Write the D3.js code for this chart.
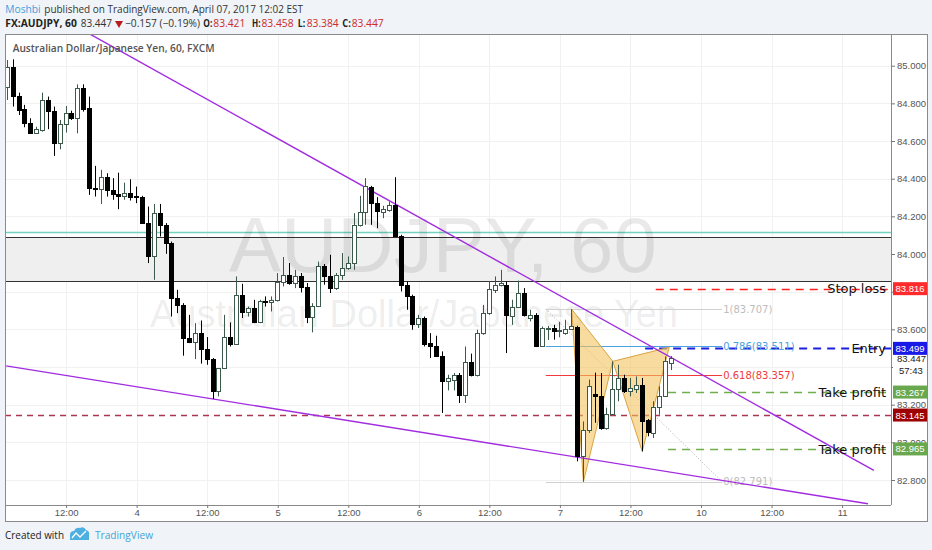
<!DOCTYPE html>
<html><head><meta charset="utf-8">
<script src="https://cdn.jsdelivr.net/npm/d3@7"></script>
<style>
body{margin:0;background:#f0f3f7;}
svg{display:block;font-family:"Open Sans",sans-serif;}
</style>
</head><body>
<svg id="chart" width="932" height="550"></svg>
<script>
// ---------------- DATA ----------------
const candleOpen=[84.889,84.992,84.839,84.769,84.698,84.645,84.659,84.818,84.760,84.588,
84.691,84.751,84.721,84.880,84.774,84.353,84.344,84.411,84.341,84.319,
84.309,84.326,84.309,84.305,84.167,83.990,84.220,84.155,84.058,83.766,
83.730,83.554,83.533,83.580,83.495,83.442,83.271,83.395,83.562,83.524,
83.784,83.690,83.713,83.639,83.748,83.745,83.757,83.854,83.890,83.846,
83.881,83.824,83.668,83.725,83.937,83.881,83.819,83.890,83.925,83.952,
84.155,84.222,84.355,84.270,84.225,84.234,84.261,84.096,83.837,83.775,
83.630,83.660,83.527,83.509,83.460,83.327,83.333,83.359,83.249,83.424,
83.359,83.580,83.686,83.810,83.838,83.837,83.672,83.721,83.793,83.662,
83.675,83.513,83.600,83.607,83.592,83.580,83.602,83.615,82.929,83.067,
83.256,83.247,83.076,83.152,83.283,83.342,83.275,83.283,83.306,83.117,
83.050,83.188,83.247,83.421];
const candleHigh=[85.030,85.034,84.857,84.792,84.721,84.676,84.857,84.836,84.783,84.712,
84.786,84.761,84.901,84.901,84.836,84.468,84.447,84.429,84.403,84.432,
84.379,84.397,84.358,84.309,84.252,84.266,84.266,84.164,84.066,83.810,
83.739,83.677,83.633,83.647,83.559,83.448,83.395,83.677,83.637,83.881,
83.842,83.721,83.757,83.757,83.775,83.775,83.899,83.984,83.952,83.916,
83.899,83.846,83.739,83.960,83.947,83.996,83.899,84.005,83.987,84.217,
84.309,84.403,84.362,84.302,84.256,84.278,84.408,84.102,83.854,83.784,
83.677,83.668,83.580,83.566,83.483,83.359,83.368,83.368,83.509,83.471,
83.598,83.730,83.854,83.881,83.916,83.854,83.757,83.859,83.819,83.704,
83.686,83.615,83.618,83.624,83.640,83.651,83.707,83.619,83.111,83.333,
83.370,83.368,83.184,83.430,83.412,83.359,83.342,83.350,83.342,83.124,
83.218,83.297,83.456,83.458];
const candleLow=[84.818,84.783,84.738,84.673,84.641,84.641,84.650,84.663,84.521,84.556,
84.645,84.712,84.641,84.756,84.314,84.305,84.266,84.305,84.288,84.238,
84.288,84.284,84.270,84.164,83.952,83.863,84.093,84.001,83.668,83.686,
83.460,83.527,83.442,83.418,83.412,83.230,83.244,83.389,83.509,83.518,
83.660,83.668,83.633,83.633,83.721,83.695,83.748,83.828,83.837,83.819,
83.796,83.633,83.584,83.721,83.837,83.793,83.810,83.863,83.916,83.916,
84.146,84.155,84.155,84.137,84.190,84.225,84.093,83.801,83.704,83.598,
83.607,83.509,83.448,83.453,83.156,83.276,83.276,83.209,83.209,83.350,
83.350,83.571,83.677,83.793,83.828,83.474,83.624,83.713,83.668,83.642,
83.506,83.509,83.544,83.545,83.558,83.571,83.598,82.899,82.791,83.050,
83.104,83.067,83.067,83.147,83.218,83.262,83.244,83.262,82.952,83.032,
83.023,83.147,83.244,83.384];
const candleClose=[84.992,84.839,84.765,84.694,84.645,84.663,84.818,84.760,84.592,84.691,
84.751,84.721,84.880,84.769,84.350,84.344,84.411,84.341,84.319,84.310,
84.326,84.302,84.304,84.167,83.990,84.220,84.155,84.058,83.766,83.730,
83.554,83.533,83.580,83.495,83.442,83.271,83.395,83.562,83.524,83.784,
83.690,83.713,83.639,83.748,83.743,83.757,83.854,83.890,83.846,83.881,
83.824,83.668,83.725,83.937,83.881,83.819,83.890,83.925,83.952,84.155,
84.222,84.362,84.270,84.231,84.238,84.261,84.096,83.837,83.775,83.630,
83.660,83.524,83.509,83.460,83.327,83.342,83.359,83.253,83.427,83.359,
83.580,83.686,83.814,83.837,83.846,83.677,83.721,83.793,83.677,83.675,
83.510,83.607,83.606,83.589,83.598,83.602,83.619,82.929,83.067,83.297,
83.245,83.076,83.152,83.283,83.342,83.271,83.289,83.306,83.111,83.053,
83.188,83.247,83.430,83.447];

const priceTicks=[82.8,83.0,83.2,83.4,83.6,83.8,84.0,84.2,84.4,84.6,84.8,85.0];
const hiddenPriceTicks=[83.4,83.8]; // fully covered by price boxes in the reference
const timeTickIdx=[10,22,34,46,58,70,82,94,106,118,130,142];
const timeTickLabels=["12:00","4","12:00","5","12:00","6","12:00","7","12:00","10","12:00","11"];

const patternIdx=[96,98,103,108,112.6];
const patternPrice=[83.707,82.791,83.430,82.952,83.505];

const trendUpperIdx=[14.1,147.4], trendUpperPrice=[85.167,82.851];
const trendLowerIdx=[-0.2,146.4], trendLowerPrice=[83.406,82.674];

const zonePrices=[84.088,83.855];
const tealPrice=84.118;

const fibPrices=[83.707,83.511,83.357,82.791];
const fibLabels=["1(83.707)","0.786(83.511)","0.618(83.357)","0(82.791)"];
const fibColors=["#d0d0d0","#4aa3df","#f23a3a","#d0d0d0"];
const fibStartIdx=91.6, fibEndIdx=121.6;

const levelNames=["Stop loss","Entry","Take profit","","Take profit"];
const levelPrices=[83.816,83.499,83.267,83.145,82.965];
const levelStartIdx=[110.3,108.5,112.4,-2,112.4];
const levelColors=["#ff2020","#1f1fe0","#6fae4c","#a8374f","#6fae4c"];
const boxColors=["#ff2b2b","#1a1ae6","#6aa84f","#9c0000","#6aa84f"];

const lastPrice=83.447, countdown="57:43";

// ---------------- SCALES ----------------
const svg=d3.select("#chart");
const P={l:5,r:891,t:34,b:505,R:927,B:521};
const x=d3.scaleLinear().domain([0,113]).range([7.3,671.6]);
const y=d3.scaleLinear().domain([82.8,85.0]).range([480,65.7]);
const fmt=d3.format(".3f");

// chart frame
svg.append("rect").attr("x",P.l+0.5).attr("y",P.t+0.5).attr("width",P.R-P.l).attr("height",P.B-P.t)
  .attr("fill","#fff").attr("stroke","#8a8a8a");

svg.append("defs").append("clipPath").attr("id","clip").append("rect")
  .attr("x",P.l+1).attr("y",P.t+1).attr("width",P.r-P.l-1).attr("height",P.b-P.t-1);
const plot=svg.append("g").attr("clip-path","url(#clip)");

// grid
plot.selectAll(".vg").data(timeTickIdx).join("line")
  .attr("x1",d=>Math.round(x(d))+0.5).attr("x2",d=>Math.round(x(d))+0.5)
  .attr("y1",P.t).attr("y2",P.b).attr("stroke","#f1f1f1");
plot.selectAll(".hg").data(priceTicks).join("line")
  .attr("x1",P.l).attr("x2",P.r)
  .attr("y1",d=>Math.round(y(d))+0.5).attr("y2",d=>Math.round(y(d))+0.5).attr("stroke","#f1f1f1");

// zone
plot.append("rect").attr("x",P.l).attr("width",P.r-P.l)
  .attr("y",y(zonePrices[0])).attr("height",y(zonePrices[1])-y(zonePrices[0]))
  .attr("fill","#efefef");
zonePrices.forEach(p=>{
  plot.append("line").attr("x1",P.l).attr("x2",P.r)
    .attr("y1",Math.round(y(p))+0.5).attr("y2",Math.round(y(p))+0.5).attr("stroke","#333");
});
plot.append("line").attr("x1",P.l).attr("x2",P.r)
  .attr("y1",Math.round(y(tealPrice))+0.5).attr("y2",Math.round(y(tealPrice))+0.5)
  .attr("stroke","#74d3c0").attr("stroke-width",1.3);

// watermarks
plot.append("text").attr("x",229).attr("y",272).text("AUDJPY, 60")
  .attr("font-family","Liberation Sans, Arial, sans-serif").attr("font-size",78)
  .attr("fill","#000").attr("fill-opacity",0.085);
plot.append("text").attr("x",150).attr("y",327).text("Australian Dollar/Japanese Yen")
  .attr("font-family","Liberation Sans, Arial, sans-serif").attr("font-size",38)
  .attr("fill","#000").attr("fill-opacity",0.085);

// horizontal levels
levelPrices.forEach((p,i)=>{
  const yy=Math.round(y(p))+0.5;
  plot.append("line").attr("x1",Math.max(P.l,x(levelStartIdx[i]))).attr("x2",P.r)
    .attr("y1",yy).attr("y2",yy).attr("stroke",levelColors[i])
    .attr("stroke-width",i===1?2:1.5)
    .attr("stroke-dasharray",i===3?"6,5":"8,6");
});

// fib levels
fibPrices.forEach((p,i)=>{
  const yy=Math.round(y(p))+0.5;
  plot.append("line").attr("x1",x(fibStartIdx)).attr("x2",x(fibEndIdx))
    .attr("y1",yy).attr("y2",yy).attr("stroke",fibColors[i]).attr("stroke-width",1);
  plot.append("text").attr("x",x(fibEndIdx)+1).attr("y",y(p)+3.6).text(fibLabels[i])
    .attr("font-family","DejaVu Sans, Verdana, sans-serif").attr("font-size",10)
    .attr("fill",i===0||i===3?"#bdbdbd":fibColors[i]);
});
plot.append("line").attr("x1",x(fibStartIdx)).attr("y1",y(fibPrices[0]))
  .attr("x2",x(fibEndIdx)).attr("y2",y(fibPrices[3]))
  .attr("stroke","#aaa").attr("stroke-dasharray","1,2");

// harmonic pattern
const pts=patternIdx.map((d,i)=>[x(d),y(patternPrice[i])]);
const tri=[[pts[0],pts[1],pts[2]],[pts[2],pts[3],pts[4]]];
plot.selectAll(".tri").data(tri).join("path")
  .attr("d",d=>"M"+d.map(p=>p.join(",")).join("L")+"Z")
  .attr("fill","#f3c35e").attr("fill-opacity",0.6)
  .attr("stroke","#d9a441").attr("stroke-width",1);

// trend lines
[[trendUpperIdx,trendUpperPrice],[trendLowerIdx,trendLowerPrice]].forEach(([ix,pr])=>{
  plot.append("line").attr("x1",x(ix[0])).attr("y1",y(pr[0]))
    .attr("x2",x(ix[1])).attr("y2",y(pr[1]))
    .attr("stroke","#a22ce0").attr("stroke-width",1.4);
});

// candles
const idx=d3.range(candleOpen.length);
const cg=plot.append("g");
idx.forEach(i=>{
  const o=candleOpen[i],h=candleHigh[i],l=candleLow[i],c=candleClose[i];
  const up=c>=o;
  const col=up?"#3b5a4c":"#000";
  const left=Math.round(x(i)-2.5);
  cg.append("line").attr("x1",left+2.5).attr("x2",left+2.5)
    .attr("y1",y(h)).attr("y2",y(l)).attr("stroke",col).attr("stroke-width",1);
  const yt=Math.round(y(Math.max(o,c))), yb=Math.round(y(Math.min(o,c)));
  cg.append("rect").attr("x",left+0.5).attr("y",yt+0.5)
    .attr("width",4).attr("height",Math.max(1,yb-yt))
    .attr("fill",up?"#fff":"#000").attr("stroke",col);
});

// level labels
levelPrices.forEach((p,i)=>{
  if(!levelNames[i]) return;
  plot.append("text").attr("x",886).attr("y",y(p)+4.8).attr("text-anchor","end")
    .text(levelNames[i]).attr("font-family","DejaVu Sans, Verdana, sans-serif")
    .attr("font-size",13).attr("fill","#111");
});

// ---------------- AXES ----------------
svg.append("line").attr("x1",P.r+0.5).attr("x2",P.r+0.5).attr("y1",P.t).attr("y2",P.b)
  .attr("stroke","#8a8a8a");
svg.append("line").attr("x1",P.l).attr("x2",P.r).attr("y1",P.b+0.5).attr("y2",P.b+0.5)
  .attr("stroke","#8a8a8a");

const yAxis=svg.append("g").attr("transform",`translate(${P.r},0)`)
  .call(d3.axisRight(y).tickValues(priceTicks)
    .tickFormat(d=>hiddenPriceTicks.includes(d)?"":fmt(d)).tickSize(4).tickPadding(2));
yAxis.select(".domain").remove();
yAxis.selectAll(".tick line").attr("stroke","#777");
yAxis.selectAll("text").attr("font-family","Liberation Sans, Arial, sans-serif")
  .attr("font-size",9.5).attr("fill","#555");

const xAxis=svg.append("g").attr("transform",`translate(0,${P.b})`)
  .call(d3.axisBottom(x).tickValues(timeTickIdx).tickFormat((d,i)=>timeTickLabels[i]).tickSize(3).tickPadding(1));
xAxis.select(".domain").remove();
xAxis.selectAll(".tick line").attr("stroke","#777");
xAxis.selectAll("text").attr("font-family","Liberation Sans, Arial, sans-serif")
  .attr("font-size",9.5).attr("fill","#555");

// price boxes
const ax=svg.append("g");
ax.append("rect").attr("x",893).attr("y",y(lastPrice)-7).attr("width",34).attr("height",25).attr("fill","#fff");
ax.append("text").attr("x",897).attr("y",y(lastPrice)+3.5).text(fmt(lastPrice))
  .attr("font-family","Liberation Sans, Arial, sans-serif").attr("font-size",9.5).attr("fill","#222");
ax.append("text").attr("x",899).attr("y",y(lastPrice)+15.5).text(countdown)
  .attr("font-family","Liberation Sans, Arial, sans-serif").attr("font-size",9.5).attr("fill","#222");
levelPrices.forEach((p,i)=>{
  ax.append("rect").attr("x",893).attr("y",y(p)-6.5).attr("width",34).attr("height",13)
    .attr("fill",boxColors[i]);
  ax.append("text").attr("x",910).attr("y",y(p)+3.5).attr("text-anchor","middle").text(fmt(p))
    .attr("font-family","Liberation Sans, Arial, sans-serif").attr("font-size",9.5).attr("fill","#fff");
});

// ---------------- HEADER ----------------
const hf="Open Sans, sans-serif";
function T(txt,xx,yy,opt){
  const t=svg.append("text").attr("x",xx).attr("y",yy).text(txt)
    .attr("font-family",hf).attr("font-size",opt.size||10.5).attr("fill",opt.fill||"#333");
  if(opt.bold) t.attr("font-weight",opt.bold);
  if(opt.len) t.attr("textLength",opt.len).attr("lengthAdjust","spacingAndGlyphs");
  return t;
}
T("Moshbi",5.3,12.7,{fill:"#3d9fdc",len:35.4});
T("published on TradingView.com, April 07, 2017 12:02 EST",44.3,12.7,{len:258.7});
T("FX:AUDJPY, 60",5.3,26.7,{bold:700,len:71.5,fill:"#222"});
T("83.447",80.7,26.7,{len:31.3});
svg.append("path").attr("d","M115,21 L123,21 L119,28 Z").attr("fill","#b71c1c");
T("\u22120.157 (\u22120.19%)",125,26.7,{len:75});
const ohlcLab=["O:","H:","L:","C:"], ohlcVal=["83.421","83.458","83.384","83.447"];
const ohlcLx=[203.3,252,297.7,342.3], ohlcVx=[213.3,261.5,306.7,351.7];
const ohlcLen=[9,8.5,7.5,8.5];
ohlcLab.forEach((l,i)=>{
  T(l,ohlcLx[i],26.7,{bold:700,fill:"#222",len:ohlcLen[i]});
  T(ohlcVal[i],ohlcVx[i],26.7,{fill:"#cc2b2b",len:32});
});
T("Australian Dollar/Japanese Yen, 60, FXCM",12.7,51.7,{bold:600,fill:"#555",len:202});

// footer
T("Created with",5,539,{fill:"#222",size:11,len:59});
svg.append("path").attr("d","M70,540 L70,535 Q70,531 74,531 Q76,527 80,528 Q84,526 86,530 Q90,531 89,535 L89,540 Z")
  .attr("fill","#4eb0e0");
svg.append("path").attr("d","M72,538 L76,533 L80,537 L86,531").attr("fill","none").attr("stroke","#fff").attr("stroke-width",1.3);
T("TradingView",95,539,{fill:"#44a6d8",size:11,len:58});
</script>
</body></html>
